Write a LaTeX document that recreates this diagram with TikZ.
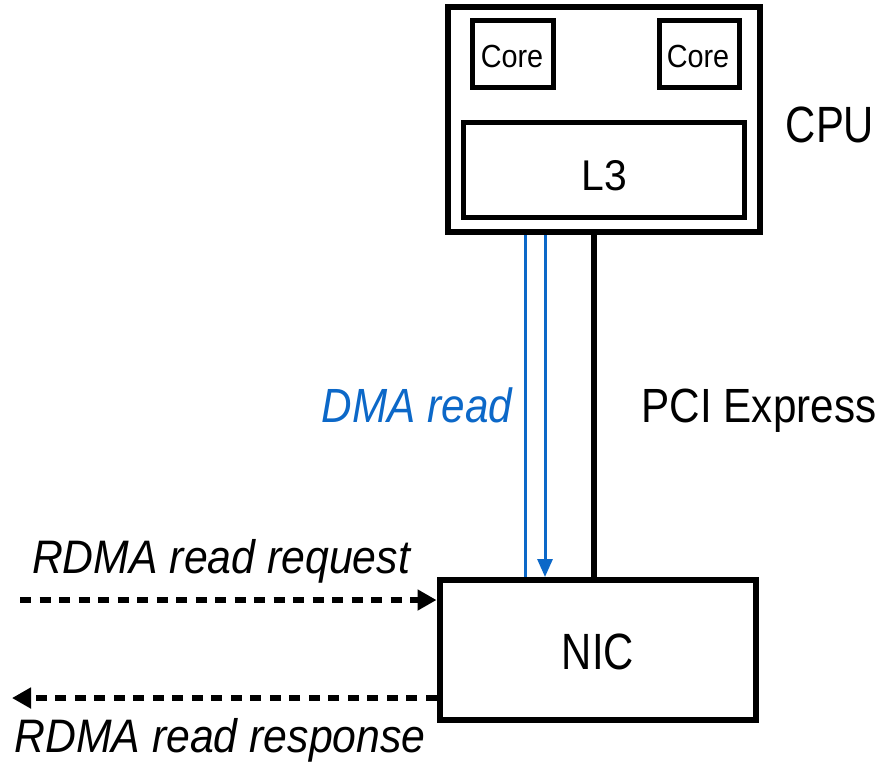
\documentclass[tikz,border=0pt]{standalone}
\usepackage{graphicx}
\usepackage{fontspec}
\setmainfont{Liberation Sans}
\usetikzlibrary{arrows.meta}
\definecolor{dmablue}{RGB}{12,104,200}
\newcommand\hsq[2]{\scalebox{#1}[1]{#2}}
\newcommand\fs[1]{\fontsize{#1}{#1}\selectfont}
\begin{document}
\begin{tikzpicture}[x=1pt,y=-1pt,
  box/.style={draw=black,line width=6pt,inner sep=0pt,fill=white},
  inbox/.style={draw=black,line width=5pt,inner sep=0pt},
  lbl/.style={inner sep=0pt,anchor=base},
  dashedarrow/.style={line width=6pt,dash pattern=on 11pt off 8.5pt,
    -{Triangle[length=19pt,width=20pt]}},
  dmaline/.style={draw=dmablue,line width=3pt},
  pcie/.style={draw=black,line width=6pt}]
\useasboundingbox (0,0) rectangle (885,764);

% CPU package with two cores and the shared L3
\node[box,minimum width=312pt,minimum height=225pt] (cpu) at (604,119.5) {};
\node[inbox,minimum width=81pt,minimum height=67pt] (core1) at (512.5,53.5) {};
\node[inbox,minimum width=80pt,minimum height=67pt] (core2) at (699.5,53.5) {};
\node[inbox,minimum width=281pt,minimum height=95pt] (l3) at (604,170) {};
\node[lbl] (core1t) at (512,67) {\fs{32}\hsq{0.9}{Core}};
\node[lbl] (core2t) at (698,67) {\fs{32}\hsq{0.9}{Core}};
\node[lbl] (l3t) at (604,190) {\fs{43}\hsq{0.95}{L3}};
\node[lbl] (cpulbl) at (830,142) {\fs{51}\hsq{0.82}{CPU}};

% Network card
\node[box,minimum width=316pt,minimum height=140pt] (nic) at (597.5,650) {};
\node[lbl] (nict) at (598,669) {\fs{51}\hsq{0.82}{NIC}};

% PCIe link and DMA traffic
\coordinate (dmaA) at (525,400);
\coordinate (dmaB) at (545,400);
\coordinate (pcieX) at (593.5,400);
\draw[pcie] (cpu.south -| pcieX) -- (nic.north -| pcieX);
\draw[dmaline] (nic.north -| dmaA) -- (cpu.south -| dmaA);
\draw[dmaline,-{Triangle[length=18pt,width=15pt]}] (cpu.south -| dmaB) -- (nic.north -| dmaB);
\node[lbl,text=dmablue] (dmalbl) at (417,422) {\fs{48}\itshape\hsq{0.88}{DMA read}};
\node[lbl] (pcielbl) at (759,422) {\fs{48}\hsq{0.88}{PCI Express}};

% RDMA request and response
\coordinate (reqstart) at (20,600);
\coordinate (respend) at (12,698);
\draw[dashedarrow] (reqstart) -- (reqstart -| nic.west);
\draw[dashedarrow] (respend -| nic.west) -- (respend);
\node[lbl] (reqlbl) at (221,573) {\fs{47}\itshape\hsq{0.91}{RDMA read request}};
\node[lbl] (resplbl) at (220,752) {\fs{47}\itshape\hsq{0.91}{RDMA read response}};
\end{tikzpicture}
\end{document}
